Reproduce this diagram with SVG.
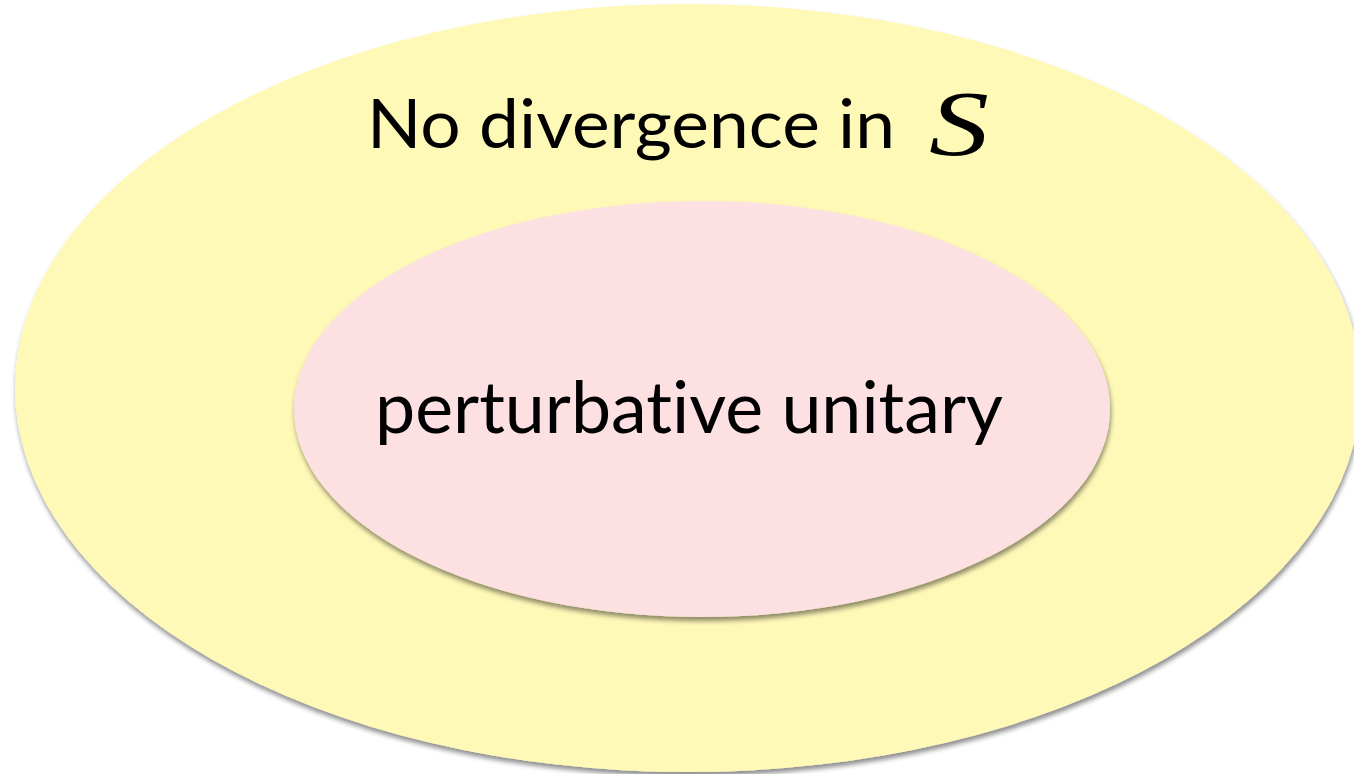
<svg xmlns="http://www.w3.org/2000/svg" width="1354" height="774" viewBox="0 0 1354 774">
  <defs>
    <filter id="softShadow" x="-5%" y="-5%" width="110%" height="115%">
      <feGaussianBlur in="SourceAlpha" stdDeviation="2.5"/>
      <feOffset dx="1" dy="4" result="blur"/>
      <feComponentTransfer result="shade">
        <feFuncA type="linear" slope="0.45"/>
      </feComponentTransfer>
      <feMerge>
        <feMergeNode in="shade"/>
        <feMergeNode in="SourceGraphic"/>
      </feMerge>
    </filter>
  </defs>
  <style>
    .label { font-family: "Lato", "Open Sans", "Liberation Sans", sans-serif; fill: #000; font-variant-ligatures: none; font-feature-settings: "liga" 0; }
    .math { font-family: "Liberation Serif", "DejaVu Serif", serif; font-style: italic; fill: #000; }
  </style>
  <rect width="1354" height="774" fill="#ffffff"/>

  <!-- outer set -->
  <g id="outer-set">
    <ellipse cx="688" cy="388" rx="673" ry="384" fill="#fff9b8" filter="url(#softShadow)"/>
    <text class="label" x="367" y="148" font-size="67" textLength="528" lengthAdjust="spacingAndGlyphs">No divergence in</text>
    <text class="math" x="929" y="155" font-size="94" textLength="60" lengthAdjust="spacingAndGlyphs">S</text>
  </g>

  <!-- inner set -->
  <g id="inner-set">
    <ellipse cx="702" cy="409" rx="408" ry="208" fill="#fde1e2" filter="url(#softShadow)"/>
    <text class="label" x="375" y="433" font-size="72" textLength="628" lengthAdjust="spacingAndGlyphs">perturbative unitary</text>
  </g>

  <g id="connectors"/>
</svg>
